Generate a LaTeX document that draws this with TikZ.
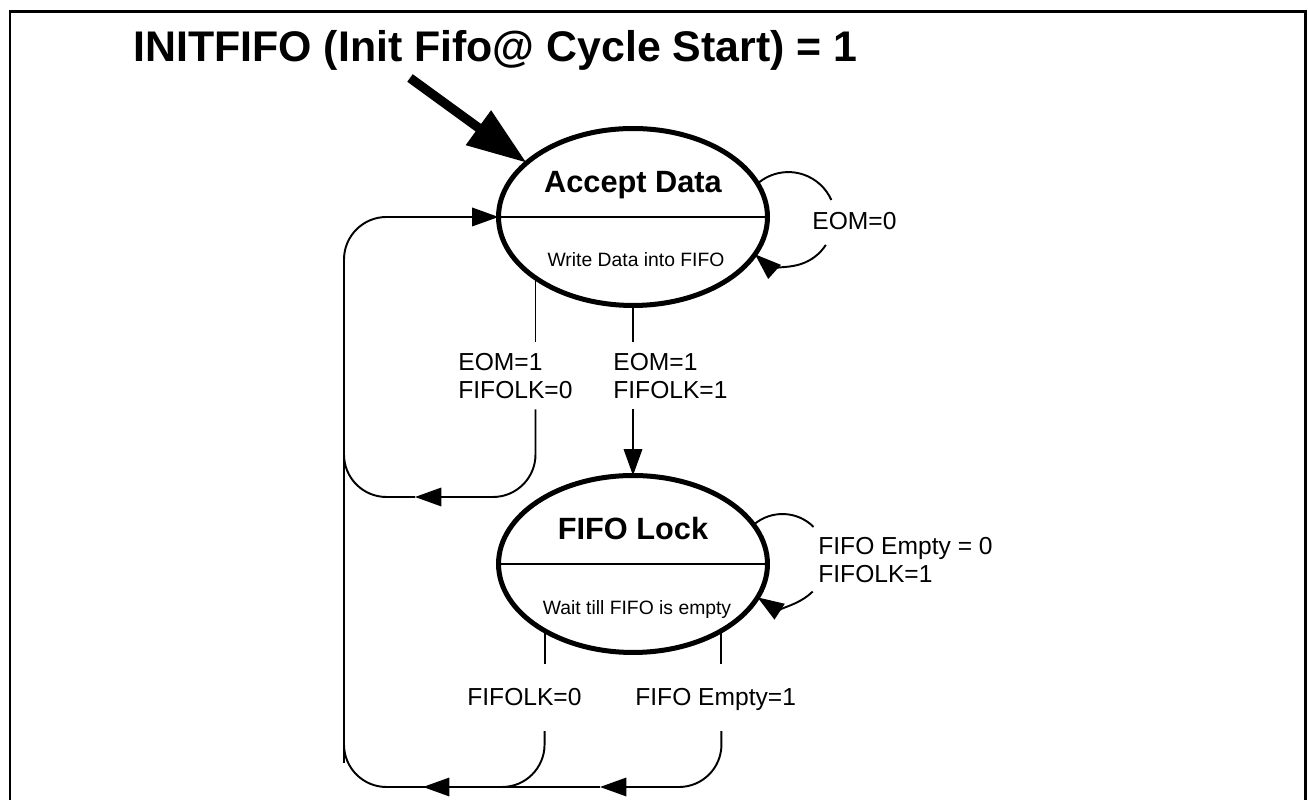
\documentclass[tikz,border=0pt]{standalone}
\usepackage{fontspec}
\setmainfont{Liberation Sans}
\usetikzlibrary{arrows.meta,shapes.geometric}

\begin{document}
\begin{tikzpicture}[x=0.02cm, y=0.02cm,
  >={Triangle[length=15pt,width=10.5pt]},
  wire/.style={line width=1.1pt},
  state/.style={ellipse, draw, line width=2.85pt, minimum width=5.38cm,
    minimum height=3.54cm, inner sep=0pt, outer sep=0pt},
  statename/.style={font=\fontsize{17.5}{20}\selectfont\bfseries, inner sep=0pt, anchor=base},
  stateact/.style={font=\fontsize{11}{13}\selectfont, inner sep=0pt, anchor=base},
  cond/.style={font=\fontsize{14}{16}\selectfont, align=left, inner xsep=0pt, inner ysep=6pt},
  initarrow/.style={line width=5.3pt, -{Triangle[length=34pt,width=23pt]}}]

\useasboundingbox (0,0) rectangle (1308,800);

% Frame, open at the bottom
\draw[line width=1.7pt] (10,0) -- (10,788) -- (1305,788) -- (1305,0);

% Title
\node[font=\fontsize{24.4}{28}\selectfont\bfseries, inner sep=0pt, anchor=base west]
    (title) at (133,738) {INITFIFO (Init Fifo@ Cycle Start) = 1};

% States
\node[state] (acc)  at (633,583) {};
\node[state] (lock) at (633,236) {};
\draw[wire] (acc.west) -- (acc.east);
\draw[wire] (lock.west) -- (lock.east);
\node[statename] (accName)  at ([yshift=0.48cm]acc.center)  {Accept Data};
\node[stateact]  (accAct)   at ([xshift=0.06cm,yshift=-1.0cm]acc.center) {Write Data into FIFO};
\node[statename] (lockName) at ([yshift=0.48cm]lock.center) {FIFO Lock};
\node[stateact]  (lockAct)  at ([xshift=0.08cm,yshift=-1.02cm]lock.center) {Wait till FIFO is empty};

% Entry arrow
\coordinate (initTail) at (410,722);
\draw[initarrow] (initTail) -- (acc.153);

% Accept Data: stay while EOM=0
\draw[wire] (acc.15) arc[start angle=131, end angle=24, radius=47];
\draw[wire, <-] (acc.-17) arc[start angle=-132, end angle=-33, radius=47];
\node[cond, inner ysep=0pt, anchor=base west] (eom0) at (812,570) {EOM=0};

% Leaving Accept Data
\node[cond, anchor=north west] (eomA) at (458,458) {EOM=1\\FIFOLK=0};
\node[cond, anchor=north west] (eomB) at (613,458) {EOM=1\\FIFOLK=1};
\draw[wire] (acc.south) -- (acc.south |- eomB.north);
\draw[wire, ->] (acc.south |- eomB.south) -- (lock.north);
\draw[wire] (acc.212) -- (acc.212 |- eomA.north);
\coordinate (tipA)  at (415,303);
\coordinate (joinA) at (344,347);
\draw[wire, ->, rounded corners=0.85cm] (acc.212 |- eomA.south) |- (tipA);
\draw[wire, rounded corners=0.85cm] (tipA) -| (joinA);

% Return line into Accept Data
\coordinate (leftBot) at (344,37);
\draw[wire, ->, rounded corners=0.85cm] (leftBot) |- (acc.west);

% FIFO Lock: stay while not empty
\draw[wire] (lock.18) arc[start angle=131, end angle=45, radius=44];
\draw[wire, <-] (lock.-15) arc[start angle=-123, end angle=-45, radius=44];
\node[cond, inner ysep=0pt, anchor=north west] (fe0) at (818,263) {FIFO Empty = 0\\FIFOLK=1};

% Leaving FIFO Lock
\node[cond, inner ysep=14pt, anchor=base west] (lk0) at (467,94) {FIFOLK=0};
\node[cond, inner ysep=14pt, anchor=base west] (fe1) at (635,94) {FIFO Empty=1};
\draw[wire] (lock.217) -- (lock.217 |- lk0.north);
\draw[wire] (lock.323) -- (lock.323 |- lk0.north);
\coordinate (tipB)  at (600,13);
\coordinate (tipC)  at (423,13);
\coordinate (joinB) at (344,57);
\draw[wire, ->, rounded corners=0.85cm] (lock.323 |- lk0.south) |- (tipB);
\draw[wire] (tipB) -- (tipC);
\draw[wire, ->, rounded corners=0.85cm] (lock.217 |- lk0.south) |- (tipC);
\draw[wire, rounded corners=0.85cm] (tipC) -| (joinB);

\end{tikzpicture}
\end{document}
